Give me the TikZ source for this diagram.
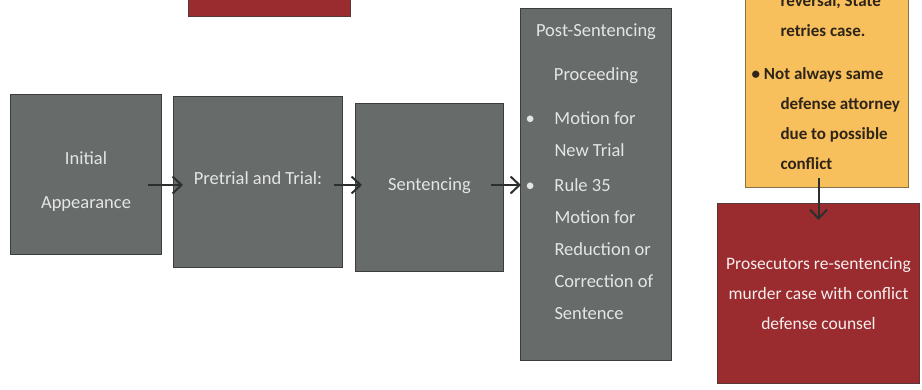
\documentclass[tikz,border=0pt]{standalone}
\usepackage{fontspec}
\setmainfont{Carlito}
\usetikzlibrary{arrows.meta, positioning, calc}

\definecolor{boxgray}{HTML}{676B69}
\definecolor{boxred}{HTML}{9A2B2E}
\definecolor{boxyel}{HTML}{F8C05C}
\definecolor{edge}{HTML}{3C3E3D}
\definecolor{txtgray}{HTML}{E4E6E5}
\definecolor{txtdark}{HTML}{2E2418}
\definecolor{arrowc}{HTML}{2B2F2E}

\begin{document}
\begin{tikzpicture}[x=1pt, y=-1pt,
    every node/.style={font=\fontsize{18.5}{32}\selectfont},
    gb/.style={draw=edge, line width=1pt, fill=boxgray, text=txtgray, anchor=north west, inner sep=0pt, align=center},
    rb/.style={gb, draw=edge!70!boxred, fill=boxred, text=white!92!boxred, font=\fontsize{17.5}{30}\selectfont},
    yb/.style={gb, draw=edge!60!boxyel, fill=boxyel, text=txtdark, align=left, font=\bfseries\fontsize{17}{30}\selectfont},
    a/.style={-{Straight Barb[length=9pt,width=17pt]}, line width=2pt, draw=arrowc}
]
\useasboundingbox (0,0) rectangle (922,389);
\clip (0,0) rectangle (922,389);
\def\bul{\makebox[34pt][l]{\hspace{5pt}\textbullet}}
\def\ind{\hspace*{34pt}}
\def\yind{\hspace*{35pt}}
% flow of the case
\node[rb, minimum width=162pt, minimum height=36pt] (prev) at (188,-20) {};
\node[gb, minimum width=151pt, minimum height=160pt] (init) at (10,94) {\rule{0pt}{27pt}Initial\\[12pt]Appearance};
\node[gb, minimum width=169pt, minimum height=171pt, text depth=8pt] (trial) at (173,96) {Pretrial and Trial:};
\node[gb, minimum width=148pt, minimum height=168pt, text depth=7pt] (sent) at (355,103) {Sentencing};
\node[gb, minimum width=151pt, minimum height=352pt] (post) at (520,8) {%
  \begin{minipage}[c][352pt][t]{151pt}
  \vspace*{15pt}
  {\centering Post-Sentencing\\[12pt] Proceeding\par}
  \vspace{12pt}
  \bul Motion for\\
  \ind New Trial\\[3pt]
  \bul Rule 35\\
  \ind Motion for\\
  \ind Reduction or\\
  \ind Correction of\\
  \ind Sentence\par
  \end{minipage}};
% retrial side
\node[yb, minimum width=163pt, minimum height=247pt] (retry) at (745,-60) {%
  \begin{minipage}[c][247pt][b]{163pt}
  \yind reversal, State\\
  \yind retries case.\\[13pt]
  \hspace*{6pt}\textbullet\hspace{4pt}Not always same\\
  \yind defense attorney\\
  \yind due to possible\\
  \yind conflict\par
  \vspace*{18pt}
  \end{minipage}};
\node[rb, minimum width=202pt, minimum height=180pt] (resent) at (717,203)
  {Prosecutors re-sentencing\\ murder case with conflict\\ defense counsel};
\coordinate (row) at (0,185);
\draw[a, shorten <=-14pt, shorten >=-10pt] (init.east |- row) -- (trial.west |- row);
\draw[a, shorten <=-9pt, shorten >=-7pt] (trial.east |- row) -- (sent.west |- row);
\draw[a, shorten <=-13pt, shorten >=-1pt] (sent.east |- row) -- (post.west |- row);
\draw[a, shorten <=-10pt, shorten >=-17pt] (retry.south -| resent.north) -- (resent.north);
\end{tikzpicture}
\end{document}
